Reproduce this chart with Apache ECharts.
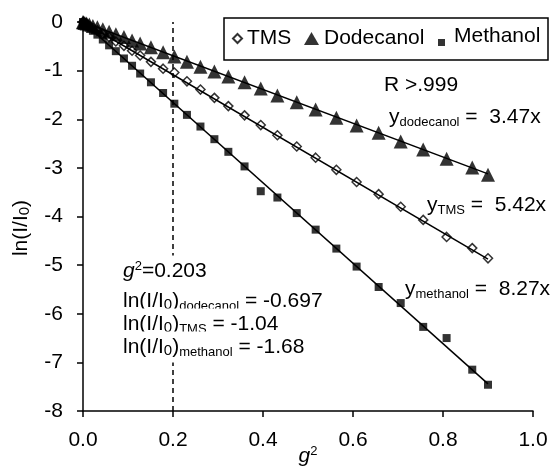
<!DOCTYPE html>
<html><head><meta charset="utf-8">
<script src="https://cdn.jsdelivr.net/npm/echarts@6/dist/echarts.min.js"></script>
<style>html,body{margin:0;padding:0;background:#fff}#c{width:555px;height:469px}</style>
</head><body><div id="c"></div>
<script>
// g^2 values (shared x for all three series)
const gSquared = [0, 0.001, 0.004, 0.008, 0.014, 0.022, 0.032, 0.044, 0.058, 0.073, 0.091, 0.109, 0.127, 0.151, 0.178, 0.203, 0.231, 0.261, 0.292, 0.323, 0.359, 0.395, 0.432, 0.475, 0.517, 0.563, 0.608, 0.657, 0.706, 0.756, 0.808, 0.865, 0.900];
const tmsValues = [0, -0.01, -0.02, -0.04, -0.08, -0.12, -0.17, -0.24, -0.31, -0.40, -0.49, -0.59, -0.69, -0.82, -0.96, -1.04, -1.22, -1.39, -1.56, -1.73, -1.92, -2.12, -2.33, -2.56, -2.79, -3.04, -3.29, -3.54, -3.80, -4.07, -4.42, -4.65, -4.86];
const dodecanolValues = [0, -0.01, -0.02, -0.03, -0.05, -0.08, -0.11, -0.15, -0.20, -0.25, -0.31, -0.38, -0.44, -0.52, -0.62, -0.71, -0.82, -0.92, -1.02, -1.12, -1.24, -1.37, -1.51, -1.65, -1.80, -1.97, -2.13, -2.28, -2.46, -2.62, -2.81, -2.99, -3.14];
const methanolValues = [0, -0.01, -0.03, -0.07, -0.12, -0.18, -0.26, -0.36, -0.48, -0.60, -0.75, -0.90, -1.06, -1.24, -1.46, -1.68, -1.91, -2.15, -2.41, -2.67, -2.97, -3.48, -3.61, -3.93, -4.27, -4.66, -5.03, -5.45, -5.78, -6.27, -6.50, -7.15, -7.46];
const seriesNames = ['TMS', 'Dodecanol', 'Methanol'];
const fitSlopes = [-5.42, -3.47, -8.27];   // TMS, Dodecanol, Methanol
const fitRange = [0, 0.9];
const cutoffG2 = 0.203;
const cutoffLabels = ['-0.697', '-1.04', '-1.68'];

const FONT = "'Liberation Sans', Arial, Helvetica, sans-serif";
const pair = (xs, ys) => xs.map((x, i) => [x, ys[i]]);

const rich = {
  m: { fontSize: 21, fontFamily: FONT, color: '#000', lineHeight: 23 },
  i: { fontSize: 21, fontFamily: FONT, color: '#000', lineHeight: 23, fontStyle: 'italic' },
  s: { fontSize: 13, fontFamily: FONT, color: '#000', lineHeight: 8, verticalAlign: 'bottom' },
  z: { fontSize: 15, fontFamily: FONT, color: '#000', lineHeight: 9, verticalAlign: 'bottom' },
  p: { fontSize: 13, fontFamily: FONT, color: '#000', lineHeight: 11, verticalAlign: 'top' }
};

function txt(x, cy, text, extra) {
  return {
    type: 'text', x: x, y: cy - 11.5, z: 10,
    style: Object.assign({ text: text, rich: rich, fontSize: 21, fontFamily: FONT, fill: '#000', align: 'left', verticalAlign: 'top' }, extra || {})
  };
}
function bgTxt(x, cy, text) {
  return txt(x, cy - 4, text, { backgroundColor: '#fff', padding: [4, 2, 4, 0] });
}

const chart = echarts.init(document.getElementById('c'));
const scatterStyles = [
  { symbol: 'diamond', symbolSize: 9, itemStyle: { color: '#fff', borderColor: '#000', borderWidth: 1.5 } },
  { symbol: 'triangle', symbolSize: 14, itemStyle: { color: '#000' } },
  { symbol: 'rect', symbolSize: 8, itemStyle: { color: '#000' } }
];
const valueSets = [tmsValues, dodecanolValues, methanolValues];

const series = [];
seriesNames.forEach((n, k) => {
  series.push(Object.assign({ name: n, type: 'scatter', z: 2, data: pair(gSquared, valueSets[k]) }, scatterStyles[k]));
});
seriesNames.forEach((n, k) => {
  const s = {
    name: n + ' fit', type: 'line', z: 3, silent: true, showSymbol: false, symbol: 'none',
    lineStyle: { color: '#000', width: 1.5 },
    data: fitRange.map(x => [x, fitSlopes[k] * x])
  };
  if (k === 0) {
    s.markLine = {
      silent: true, symbol: 'none', label: { show: false },
      lineStyle: { color: '#000', width: 1.5, type: [5, 4] },
      data: [{ xAxis: cutoffG2 }]
    };
  }
  series.push(s);
});

function legendFor(name, left, top, w, h, extra) {
  return Object.assign({
    data: [name], left: left, top: top, itemWidth: w, itemHeight: h, padding: 0, selectedMode: false,
    textStyle: { fontSize: 21, fontFamily: FONT, color: '#000' }
  }, extra || {});
}

chart.setOption({
  animation: false,
  backgroundColor: '#fff',
  grid: { left: 83, right: 22, top: 22, bottom: 58, containLabel: false, outerBoundsMode: 'none' },
  legend: [
    legendFor('TMS', 232, 28, 9, 9),
    legendFor('Dodecanol', 304, 28, 15, 13),
    legendFor('Methanol', 438, 26, 7, 7, {
      formatter: '{a|{name}}',
      textStyle: { fontSize: 21, fontFamily: FONT, color: '#000',
        rich: { a: { fontSize: 21, fontFamily: FONT, color: '#000', padding: [0, 0, 12, 4] } } }
    })
  ],
  xAxis: {
    type: 'value', min: 0, max: 1, interval: 0.2,
    name: '{i|g}{p|2}', nameLocation: 'middle', nameGap: 34, nameMoveOverlap: false,
    nameTextStyle: { rich: rich },
    axisLine: { onZero: false, lineStyle: { color: '#000', width: 1.5 } },
    axisTick: { length: 6, lineStyle: { color: '#000', width: 1.5 } },
    axisLabel: { margin: 19, fontSize: 21, fontFamily: FONT, color: '#000', formatter: v => v.toFixed(1) },
    splitLine: { show: false }
  },
  yAxis: {
    type: 'value', min: -8, max: 0, interval: 1,
    axisLine: { onZero: false, lineStyle: { color: '#000', width: 1.5 } },
    axisTick: { length: 6, lineStyle: { color: '#000', width: 1.5 } },
    axisLabel: { margin: 20, fontSize: 21, fontFamily: FONT, color: '#000' },
    splitLine: { show: false }
  },
  graphic: [
    { type: 'rect', z: 1, shape: { x: 224, y: 18, width: 324, height: 42 }, style: { fill: 'none', stroke: '#000', lineWidth: 1.5 } },
    { type: 'text', x: 21, y: 228, rotation: Math.PI / 2, z: 10,
      style: { text: '{m|ln(I/I}{z|0}{m|)}', rich: rich, fontSize: 21, fontFamily: FONT, fill: '#000', align: 'center', verticalAlign: 'middle' } },
    txt(384, 85, '{m|R >.999}'),
    txt(389, 117, '{m|y}{s|dodecanol}{m| =  ' + Math.abs(fitSlopes[1]).toFixed(2) + 'x}'),
    txt(427, 205, '{m|y}{s|TMS}{m| =  ' + Math.abs(fitSlopes[0]).toFixed(2) + 'x}'),
    txt(405, 289, '{m|y}{s|methanol}{m| =  ' + Math.abs(fitSlopes[2]).toFixed(2) + 'x}'),
    bgTxt(123, 271, '{i|g}{p|2}{m|=' + cutoffG2.toFixed(3) + '}'),
    bgTxt(123, 301, '{m|ln(I/I}{z|0}{m|)}{s|dodecanol}{m| = ' + cutoffLabels[0] + '}'),
    bgTxt(123, 324, '{m|ln(I/I}{z|0}{m|)}{s|TMS}{m| = ' + cutoffLabels[1] + '}'),
    bgTxt(123, 347, '{m|ln(I/I}{z|0}{m|)}{s|methanol}{m| = ' + cutoffLabels[2] + '}')
  ],
  series: series
});
</script></body></html>
